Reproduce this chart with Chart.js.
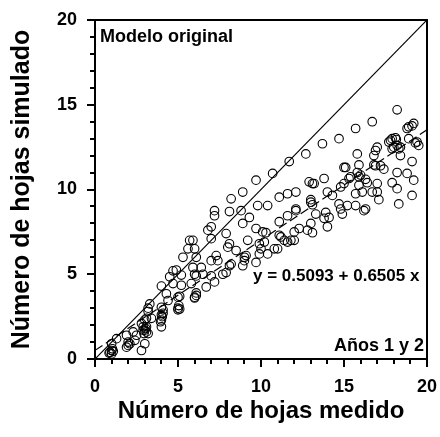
<!DOCTYPE html>
<html>
<head>
<meta charset="utf-8">
<script src="https://cdn.jsdelivr.net/npm/chart.js@4.4.0/dist/chart.umd.min.js"></script>
<style>
  html, body { margin: 0; padding: 0; background: #fff; }
  #wrap { width: 440px; height: 437px; }
</style>
</head>
<body>
<div id="wrap"><canvas id="chart" width="440" height="437"></canvas></div>
<script>
// número de hojas medido / simulado
const measured = [
  0.9, 1.0, 1.0, 1.1, 0.85, 1.05, 1.0, 1.3, 1.9, 2.0, 1.9, 2.1, 2.0, 2.3, 2.4, 2.5, 2.8, 2.9, 3.0, 3.1, 2.95, 3.05, 3.0, 3.2, 2.8, 3.0, 3.2, 3.1, 3.3, 3.2, 3.4, 2.9, 3.1,
  4.0, 4.0, 4.05, 4.0, 4.1, 4.0, 4.3, 4.0, 4.5, 4.7, 4.9, 4.7, 4.4, 5.0, 5.1, 5.0, 5.1, 5.05, 5.2, 5.3, 5.2, 4.1, 3.95, 5.0,
  5.6, 5.7, 5.9, 6.0, 6.1, 5.9, 5.8, 6.0, 6.1, 6.0, 6.1, 6.1, 6.0, 6.4, 6.5, 6.7, 6.8, 7.0, 7.0, 7.2, 7.2, 7.0, 7.0, 7.2, 7.3, 7.4,
  7.9, 8.0, 8.1, 8.1, 8.2, 8.5, 7.7, 7.9, 8.1, 8.2, 8.9, 8.8, 8.9, 8.9, 9.0, 9.0, 9.1, 9.2, 9.3,
  9.7, 9.8, 9.7, 9.9, 10.0, 9.9, 9.7, 10.1, 10.3, 10.2, 10.4, 10.4, 10.7, 10.8, 11.0, 11.1, 11.1, 11.2, 11.1, 11.4,
  11.7, 11.6, 11.6, 11.6, 11.8, 12.0, 12.1, 12.1, 12.1, 12.0, 12.3, 12.7, 12.8, 13.0, 13.0, 13.1, 13.0, 13.1, 13.2, 12.9, 13.1, 13.3,
  13.7, 13.8, 13.8, 13.9, 14.0, 14.0, 14.1, 14.3, 14.7, 14.7, 14.8, 14.9, 14.8, 15.0, 15.0, 15.1, 15.2, 15.3, 15.4,
  15.7, 15.8, 15.8, 15.9, 15.7, 15.7, 15.9, 15.9, 16.0, 16.1, 16.2, 16.3, 16.3, 16.4, 16.7, 16.7, 16.8, 16.9, 17.0, 16.9, 16.8, 17.0, 17.1, 17.0, 17.2, 17.4,
  17.7, 17.8, 17.9, 17.9, 18.0, 17.9, 18.1, 18.15, 18.2, 18.2, 18.3, 18.4, 18.4, 18.2, 18.2, 18.3, 18.8, 18.9, 19.1, 19.2, 18.8, 18.9, 19.1, 19.2, 19.1, 19.4, 19.5, 19.3
];
const simulated = [
  0.4, 0.3, 0.5, 0.45, 0.35, 0.6, 0.9, 1.2, 1.4, 0.8, 0.7, 0.9, 1.0, 1.6, 1.1, 1.4, 0.5, 1.9, 1.7, 1.6, 1.5, 1.8, 0.9, 1.5, 2.1, 2.3, 2.8, 2.4, 3.25, 3.0, 2.4, 1.7, 1.9,
  1.9, 2.3, 2.5, 2.6, 2.9, 3.05, 3.85, 4.3, 4.85, 5.2, 5.25, 4.45, 3.45, 3.65, 3.7, 3.0, 2.95, 3.15, 4.95, 6.0, 4.35, 2.7, 2.2, 2.9,
  6.5, 7.0, 7.0, 6.5, 6.0, 5.4, 4.45, 3.65, 3.75, 3.6, 3.9, 4.9, 5.0, 5.4, 5.0, 4.25, 7.6, 7.8, 7.1, 8.75, 8.45, 5.8, 4.9, 4.55, 6.1, 5.8,
  7.4, 6.6, 6.8, 8.7, 9.45, 6.4, 5.0, 5.1, 5.5, 5.6, 9.85, 8.75, 8.0, 5.5, 5.8, 6.0, 6.1, 7.0, 8.35,
  10.55, 9.05, 7.7, 6.8, 6.5, 6.2, 5.7, 7.5, 7.45, 6.9, 9.05, 6.2, 10.95, 6.5, 6.5, 9.55, 8.1, 7.2, 7.3, 7.0,
  11.65, 9.75, 8.45, 6.9, 7.0, 7.0, 8.75, 8.85, 9.85, 7.5, 7.7, 12.1, 7.6, 8.0, 9.4, 9.1, 9.25, 10.35, 10.35, 10.45, 7.45, 8.55,
  12.7, 10.65, 8.3, 8.65, 9.85, 7.8, 8.35, 9.65, 13.0, 9.15, 8.85, 8.55, 10.15, 10.35, 11.3, 11.3, 9.05, 10.65, 10.75,
  13.6, 12.1, 11.0, 11.45, 9.75, 9.05, 10.25, 10.75, 10.85, 9.85, 8.75, 8.85, 10.6, 10.4, 14.0, 9.85, 12.0, 12.3, 12.5, 11.4, 11.45, 10.35, 9.4, 9.85, 11.4, 11.2,
  12.8, 12.9, 13.0, 12.4, 12.5, 10.4, 13.05, 12.95, 14.7, 12.6, 12.4, 12.5, 12.0, 11.0, 10.05, 9.15, 13.6, 13.7, 13.75, 13.9, 10.95, 13.0, 11.65, 10.55, 9.65, 12.8, 12.6, 12.75
];
// línea 1:1 y recta ajustada (y = 0.5093 + 0.6505 x)
const identityX = [0, 20];
const identityY = [0, 20];
const fitX = [0, 20];
const fitY = [0.5093, 13.5193];
const tickLabels = [0, 5, 10, 15, 20];

const FONT = '"Liberation Sans", Arial, Helvetica, sans-serif';

const points = measured.map((x, i) => ({ x, y: simulated[i] }));
const identity = identityX.map((x, i) => ({ x, y: identityY[i] }));
const fit = fitX.map((x, i) => ({ x, y: fitY[i] }));

const framePlugin = {
  id: "frame",
  afterDatasetsDraw(chart) {
    const { ctx, chartArea: a, scales } = chart;
    ctx.save();
    ctx.strokeStyle = "#000";
    ctx.lineWidth = 2;
    ctx.strokeRect(a.left, a.top, a.right - a.left, a.bottom - a.top);

    // marcas de los ejes: mayores cada 5, menores cada 1
    ctx.beginPath();
    for (let v = 0; v <= 20; v++) {
      const len = tickLabels.includes(v) ? 8 : 5;
      const px = Math.round(scales.x.getPixelForValue(v));
      ctx.moveTo(px, a.bottom);
      ctx.lineTo(px, a.bottom + len);
      const py = Math.round(scales.y.getPixelForValue(v));
      ctx.moveTo(a.left, py);
      ctx.lineTo(a.left - len, py);
    }
    ctx.stroke();

    ctx.fillStyle = "#000";
    ctx.textBaseline = "alphabetic";
    ctx.textAlign = "left";
    ctx.font = "bold 18px " + FONT;
    ctx.fillText("Modelo original", a.left + 5, a.top + 22);
    ctx.font = "bold 17px " + FONT;
    ctx.fillText("y = 0.5093 + 0.6505 x", 253, 281);
    ctx.textAlign = "right";
    ctx.font = "bold 18px " + FONT;
    ctx.fillText("Años 1 y 2", a.right - 3, a.bottom - 8);
    ctx.restore();
  },
};

new Chart(document.getElementById("chart"), {
  type: "scatter",
  data: {
    datasets: [
      {
        type: "line",
        data: identity,
        borderColor: "#000",
        borderWidth: 1.2,
        pointRadius: 0,
        fill: false,
      },
      {
        type: "line",
        data: fit,
        borderColor: "#000",
        borderWidth: 1.2,
        borderDash: [9, 4],
        pointRadius: 0,
        fill: false,
      },
      {
        data: points,
        pointStyle: "circle",
        pointRadius: 4.3,
        pointBorderWidth: 1.1,
        pointBorderColor: "#000",
        pointBackgroundColor: "rgba(0,0,0,0)",
      },
    ],
  },
  options: {
    responsive: false,
    animation: false,
    layout: { padding: { top: 20, right: 13, left: 0, bottom: 0 } },
    plugins: {
      legend: { display: false },
      tooltip: { enabled: false },
    },
    scales: {
      x: {
        type: "linear",
        min: 0,
        max: 20,
        grid: { display: false, drawTicks: false },
        border: { display: false },
        ticks: {
          stepSize: 1,
          autoSkip: false,
          maxRotation: 0,
          padding: 17,
          color: "#000",
          font: { family: FONT, size: 18, weight: "bold" },
          callback: (v) => (tickLabels.includes(v) ? String(v) : ""),
        },
        title: {
          display: true,
          text: "Número de hojas medido",
          color: "#000",
          font: { family: FONT, size: 24, weight: "bold" },
          padding: { top: 0, bottom: 11 },
        },
        afterFit: (s) => {
          s.height = 78;
          s.paddingLeft = 0;
          s.paddingRight = 0;
        },
      },
      y: {
        type: "linear",
        min: 0,
        max: 20,
        grid: { display: false, drawTicks: false },
        border: { display: false },
        ticks: {
          stepSize: 1,
          autoSkip: false,
          padding: 18,
          color: "#000",
          font: { family: FONT, size: 18, weight: "bold" },
          callback: (v) => (tickLabels.includes(v) ? String(v) : ""),
        },
        title: {
          display: true,
          text: "Número de hojas simulado",
          color: "#000",
          font: { family: FONT, size: 25, weight: "bold" },
          padding: { top: 7, bottom: 0 },
        },
        afterFit: (s) => {
          s.width = 95;
          s.paddingTop = 0;
          s.paddingBottom = 0;
        },
      },
    },
  },
  plugins: [framePlugin],
});
</script>
</body>
</html>
